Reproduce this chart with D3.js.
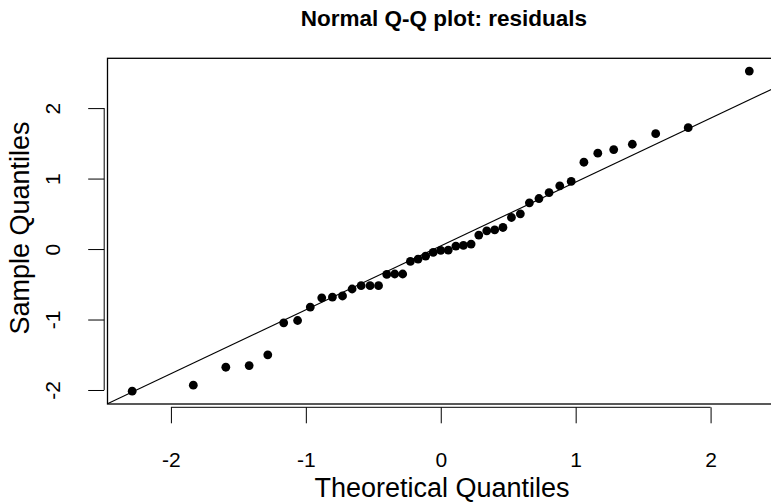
<!DOCTYPE html>
<html>
<head>
<meta charset="utf-8">
<script src="https://cdn.jsdelivr.net/npm/d3@7"></script>
<style>
  body { margin: 0; background: #fff; }
  svg text { font-family: "Liberation Sans", Arial, Helvetica, sans-serif; fill: #000; }
</style>
</head>
<body>
<svg id="chart"></svg>
<script>
// Theoretical quantiles (x) and residuals (y)
var theoretical = [-2.287, -1.834, -1.593, -1.420, -1.282, -1.164, -1.061, -0.967, -0.882, -0.803,
  -0.728, -0.657, -0.590, -0.524, -0.461, -0.400, -0.341, -0.282, -0.225, -0.168,
  -0.112, -0.056, 0, 0.056, 0.112, 0.168, 0.225, 0.282, 0.341, 0.400,
  0.461, 0.524, 0.590, 0.657, 0.728, 0.803, 0.882, 0.967, 1.061, 1.164,
  1.282, 1.420, 1.593, 1.834, 2.287];
var residuals = [-2.017, -1.932, -1.677, -1.653, -1.501, -1.047, -1.014, -0.824, -0.692, -0.682,
  -0.666, -0.567, -0.520, -0.520, -0.520, -0.360, -0.354, -0.354, -0.176, -0.142,
  -0.099, -0.048, -0.020, -0.014, 0.042, 0.051, 0.071, 0.198, 0.259, 0.273,
  0.306, 0.448, 0.500, 0.656, 0.717, 0.802, 0.897, 0.960, 1.232, 1.360,
  1.411, 1.487, 1.637, 1.722, 2.525];

var xTicks = [-2, -1, 0, 1, 2];
var yTicks = [-2, -1, 0, 1, 2];
var normQuartiles = [-0.6745, 0.6745];

var width = 771;
var height = 502;
var plot = { left: 107.5, right: 774, top: 58.3, bottom: 404 };

var svg = d3.select('#chart')
  .attr('width', width)
  .attr('height', height);

// R style range with 4% padding on each side
function padded(values) {
  var ext = d3.extent(values);
  var pad = (ext[1] - ext[0]) * 0.04;
  return [ext[0] - pad, ext[1] + pad];
}

var x = d3.scaleLinear().domain(padded(theoretical)).range([plot.left, plot.right]);
var y = d3.scaleLinear().domain(padded(residuals)).range([plot.bottom, plot.top]);

var points = theoretical.map(function (d, i) {
  return { tq: d, sq: residuals[i] };
});

// clip to plot region
svg.append('clipPath')
  .attr('id', 'plot-clip')
  .append('rect')
  .attr('x', plot.left)
  .attr('y', plot.top)
  .attr('width', plot.right - plot.left)
  .attr('height', plot.bottom - plot.top);

// qqline through the quartiles
var sorted = residuals.slice().sort(d3.ascending);
var q1 = d3.quantile(sorted, 0.25);
var q3 = d3.quantile(sorted, 0.75);
var slope = (q3 - q1) / (normQuartiles[1] - normQuartiles[0]);
var intercept = q1 - slope * normQuartiles[0];
var xd = x.domain();

svg.append('line')
  .attr('clip-path', 'url(#plot-clip)')
  .attr('x1', x(xd[0]))
  .attr('y1', y(intercept + slope * xd[0]))
  .attr('x2', x(xd[1]))
  .attr('y2', y(intercept + slope * xd[1]))
  .attr('stroke', '#000')
  .attr('stroke-width', 1.1);

svg.append('g')
  .selectAll('circle')
  .data(points)
  .enter()
  .append('circle')
  .attr('cx', function (d) { return x(d.tq); })
  .attr('cy', function (d) { return y(d.sq); })
  .attr('r', 4.4)
  .attr('fill', '#000');

// box
svg.append('rect')
  .attr('x', plot.left)
  .attr('y', plot.top)
  .attr('width', plot.right - plot.left)
  .attr('height', plot.bottom - plot.top)
  .attr('fill', 'none')
  .attr('stroke', '#000')
  .attr('stroke-width', 1.3);

// bottom axis
var axisOffset = 3.3;
var xAxis = svg.append('g')
  .attr('transform', 'translate(0,' + (plot.bottom + axisOffset) + ')')
  .call(d3.axisBottom(x).tickValues(xTicks).tickSize(16).tickSizeOuter(0));
xAxis.select('.domain').remove();
xAxis.append('line')
  .attr('x1', x(xTicks[0]))
  .attr('x2', x(xTicks[xTicks.length - 1]))
  .attr('stroke', '#000');
xAxis.selectAll('.tick line').attr('stroke', '#000');
xAxis.selectAll('.tick text')
  .attr('y', 52)
  .attr('dy', '0.35em')
  .style('font-size', '21px')
  .text(function (d) { return d < 0 ? '-' + Math.abs(d) : d; });

// left axis
var yAxis = svg.append('g')
  .attr('transform', 'translate(' + (plot.left - axisOffset) + ',0)')
  .call(d3.axisLeft(y).tickValues(yTicks).tickSize(16).tickSizeOuter(0));
yAxis.select('.domain').remove();
yAxis.append('line')
  .attr('y1', y(yTicks[0]))
  .attr('y2', y(yTicks[yTicks.length - 1]))
  .attr('stroke', '#000');
yAxis.selectAll('.tick line').attr('stroke', '#000');
yAxis.selectAll('.tick text')
  .attr('x', 0)
  .attr('y', -52)
  .attr('dy', '0.35em')
  .attr('transform', 'rotate(-90)')
  .attr('text-anchor', 'middle')
  .style('font-size', '21px')
  .text(function (d) { return d < 0 ? '-' + Math.abs(d) : d; });

// titles
svg.append('text')
  .attr('x', 444)
  .attr('y', 26)
  .attr('text-anchor', 'middle')
  .style('font-size', '22.5px')
  .style('font-weight', 'bold')
  .text('Normal Q-Q plot: residuals');

svg.append('text')
  .attr('x', 442)
  .attr('y', 497)
  .attr('text-anchor', 'middle')
  .style('font-size', '27px')
  .text('Theoretical Quantiles');

svg.append('text')
  .attr('transform', 'translate(29,228) rotate(-90)')
  .attr('text-anchor', 'middle')
  .style('font-size', '27px')
  .text('Sample Quantiles');
</script>
</body>
</html>
